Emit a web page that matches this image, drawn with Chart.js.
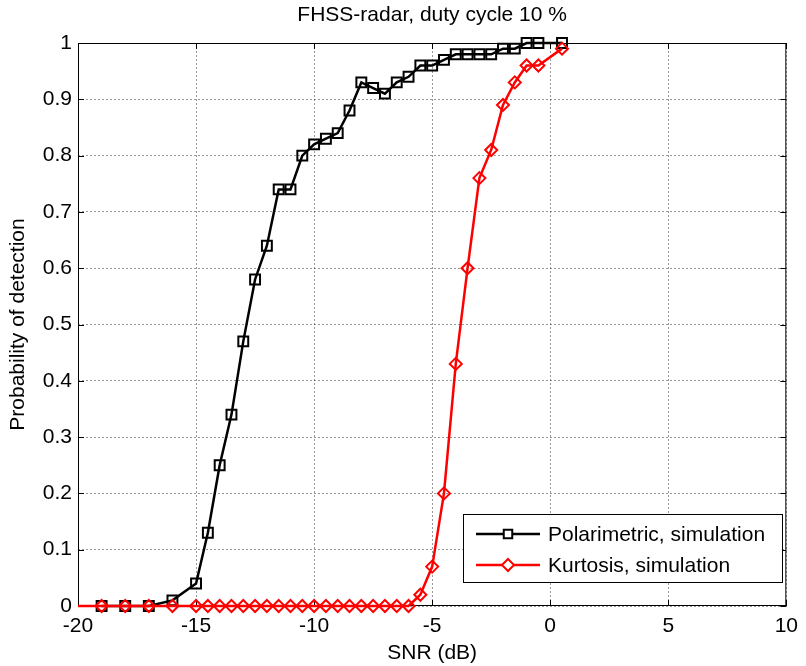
<!DOCTYPE html>
<html>
<head>
<meta charset="utf-8">
<script src="https://cdn.jsdelivr.net/npm/chart.js@4/dist/chart.umd.min.js"></script>
<style>
  html, body { margin: 0; padding: 0; background: #fff; }
  #wrap { width: 806px; height: 666px; }
</style>
</head>
<body>
<div id="wrap"><canvas id="pdChart" width="806" height="666"></canvas></div>
<script>
// SNR points (dB) and detection probabilities
const snrPolar = [-19, -18, -17, -16, -15, -14.5, -14, -13.5, -13, -12.5, -12, -11.5, -11, -10.5, -10, -9.5, -9, -8.5, -8, -7.5, -7, -6.5, -6, -5.5, -5, -4.5, -4, -3.5, -3, -2.5, -2, -1.5, -1, -0.5, 0.5];
const pdPolar = [0, 0, 0, 0.01, 0.04, 0.13, 0.25, 0.34, 0.47, 0.58, 0.64, 0.74, 0.74, 0.80, 0.82, 0.83, 0.84, 0.88, 0.93, 0.92, 0.91, 0.93, 0.94, 0.96, 0.96, 0.97, 0.98, 0.98, 0.98, 0.98, 0.99, 0.99, 1.0, 1.0, 1.0];

const snrKurt = [-20, -19, -18, -17, -16, -15, -14.5, -14, -13.5, -13, -12.5, -12, -11.5, -11, -10.5, -10, -9.5, -9, -8.5, -8, -7.5, -7, -6.5, -6, -5.5, -5, -4.5, -4, -3.5, -3, -2.5, -2, -1.5, -1, -0.5, 0.5];
const pdKurt = [0, 0, 0, 0, 0, 0, 0, 0, 0, 0, 0, 0, 0, 0, 0, 0, 0, 0, 0, 0, 0, 0, 0, 0, 0.02, 0.07, 0.20, 0.43, 0.60, 0.76, 0.81, 0.89, 0.93, 0.96, 0.96, 0.99];

const seriesNames = ['Polarimetric, simulation', 'Kurtosis, simulation'];
const chartTitle = 'FHSS-radar, duty cycle 10 %';
const xTitle = 'SNR (dB)';
const yTitle = 'Probability of detection';

const FONT = '"Liberation Sans", Arial, sans-serif';
const FSIZE = 21;

function toPoints(xs, ys) {
  return xs.map((x, i) => ({ x: x, y: ys[i] }));
}

// matlab style frame with inward ticks (under the lines), then title and legend box on top
const matlabFrame = {
  id: 'matlabFrame',
  beforeDatasetsDraw(chart) {
    const ctx = chart.ctx;
    const a = chart.chartArea;
    const xs = chart.scales.x, ys = chart.scales.y;
    ctx.save();
    ctx.strokeStyle = '#000';
    ctx.lineWidth = 1;
    ctx.strokeRect(a.left + 0.5, a.top + 0.5, a.right - a.left - 1, a.bottom - a.top - 1);
    ctx.beginPath();
    xs.ticks.forEach(t => {
      const px = Math.round(xs.getPixelForValue(t.value)) + 0.5;
      ctx.moveTo(px, a.bottom); ctx.lineTo(px, a.bottom - 6);
      ctx.moveTo(px, a.top); ctx.lineTo(px, a.top + 6);
    });
    ys.ticks.forEach(t => {
      const py = Math.round(ys.getPixelForValue(t.value)) + 0.5;
      ctx.moveTo(a.left, py); ctx.lineTo(a.left + 6, py);
      ctx.moveTo(a.right, py); ctx.lineTo(a.right - 6, py);
    });
    ctx.stroke();
    ctx.restore();
  },
  afterDatasetsDraw(chart) {
    const ctx = chart.ctx;
    const a = chart.chartArea;
    ctx.save();

    // title
    ctx.fillStyle = '#000';
    ctx.font = FSIZE + 'px ' + FONT;
    ctx.textAlign = 'center';
    ctx.textBaseline = 'middle';
    ctx.fillText(chartTitle, (a.left + a.right) / 2, 15);

    // legend
    const lx = 463, ly = 514, lw = 319, lh = 68;
    ctx.fillStyle = '#fff';
    ctx.fillRect(lx, ly, lw, lh);
    ctx.strokeStyle = '#000';
    ctx.lineWidth = 1;
    ctx.strokeRect(lx + 0.5, ly + 0.5, lw, lh);
    ctx.textAlign = 'left';
    chart.data.datasets.forEach((ds, i) => {
      const y = ly + 20 + i * 31;
      ctx.strokeStyle = ds.borderColor;
      ctx.lineWidth = 2.5;
      ctx.beginPath();
      ctx.moveTo(lx + 13, y); ctx.lineTo(lx + 77, y);
      ctx.stroke();
      ctx.fillStyle = '#fff';
      ctx.lineWidth = 2;
      Chart.helpers.drawPoint(ctx, {
        pointStyle: ds.pointStyle, radius: ds.legendRadius, borderWidth: 2, rotation: 0
      }, lx + 45, y);
      ctx.fillStyle = '#000';
      ctx.fillText(ds.label, lx + 85, y + 1);
    });
    ctx.restore();
  }
};

const ctx = document.getElementById('pdChart').getContext('2d');
const chart = new Chart(ctx, {
  type: 'line',
  data: {
    datasets: [{
      label: seriesNames[0],
      data: toPoints(snrPolar, pdPolar),
      order: 1,
      clip: false,
      borderColor: '#000',
      backgroundColor: 'rgba(0,0,0,0)',
      borderWidth: 2.5,
      pointStyle: 'rect',
      pointRadius: 7,
      pointBorderWidth: 2,
      pointBorderColor: '#000',
      pointBackgroundColor: 'rgba(0,0,0,0)',
      legendRadius: 6,
      tension: 0
    }, {
      label: seriesNames[1],
      data: toPoints(snrKurt, pdKurt),
      order: 0,
      clip: false,
      borderColor: '#ff0000',
      backgroundColor: 'rgba(0,0,0,0)',
      borderWidth: 2.5,
      pointStyle: 'rectRot',
      pointRadius: c => (c.raw && c.raw.x === -20 ? 0 : 6),
      pointBorderWidth: 2,
      pointBorderColor: '#ff0000',
      pointBackgroundColor: 'rgba(0,0,0,0)',
      legendRadius: 6,
      tension: 0
    }]
  },
  options: {
    responsive: false,
    animation: false,
    layout: { padding: { top: 43, right: 9, left: 0, bottom: 0 } },
    plugins: {
      legend: { display: false },
      tooltip: { enabled: false },
      title: { display: false }
    },
    scales: {
      x: {
        type: 'linear',
        min: -20,
        max: 10,
        ticks: {
          stepSize: 5,
          color: '#000',
          font: { family: FONT, size: FSIZE },
          padding: 8,
          maxRotation: 0
        },
        grid: { color: 'rgba(0,0,0,0.4)', drawTicks: false },
        border: { display: false, dash: [2, 2] },
        title: {
          display: true,
          text: xTitle,
          color: '#000',
          font: { family: FONT, size: FSIZE },
          padding: { top: 0, bottom: 0 }
        },
        afterFit: s => { s.height = 60; }
      },
      y: {
        min: 0,
        max: 1,
        ticks: {
          stepSize: 0.1,
          color: '#000',
          font: { family: FONT, size: FSIZE },
          padding: 6,
          callback: v => String(+v.toFixed(1))
        },
        grid: { color: 'rgba(0,0,0,0.4)', drawTicks: false },
        border: { display: false, dash: [2, 2] },
        title: {
          display: true,
          text: yTitle,
          color: '#000',
          font: { family: FONT, size: FSIZE },
          padding: { top: 6, bottom: 0 }
        },
        afterFit: s => { s.width = 78; }
      }
    }
  },
  plugins: [matlabFrame]
});
</script>
</body>
</html>
